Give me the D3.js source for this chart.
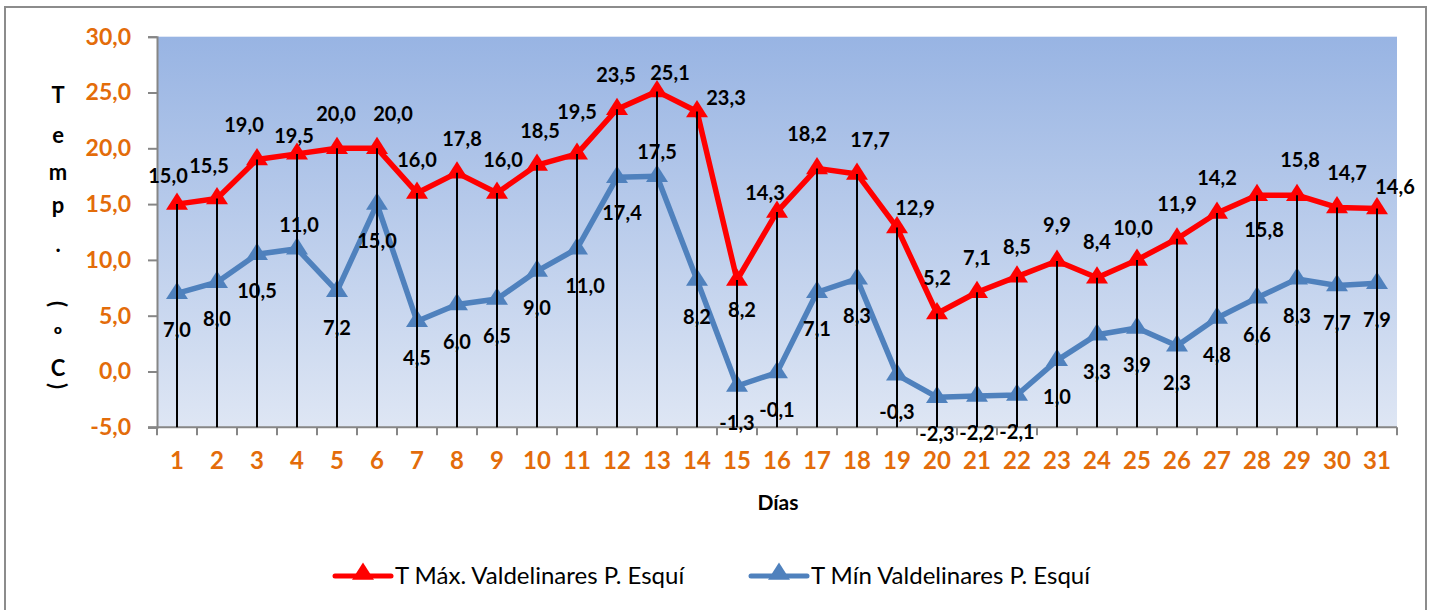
<!DOCTYPE html>
<html>
<head>
<meta charset="utf-8">
<script src="https://cdn.jsdelivr.net/npm/d3@7"></script>
<style>
  body { margin: 0; background: #fff; }
  text { font-family: Lato, "Open Sans", sans-serif; }
</style>
</head>
<body>
<svg id="chart"></svg>
<script>
// days of the month and daily temperatures (ºC)
const days = ['1','2','3','4','5','6','7','8','9','10','11','12','13','14','15','16',
  '17','18','19','20','21','22','23','24','25','26','27','28','29','30','31'];
const tMax = [15.0, 15.5, 19.0, 19.5, 20.0, 20.0, 16.0, 17.8, 16.0, 18.5, 19.5, 23.5, 25.1, 23.3, 8.2, 14.3,
  18.2, 17.7, 12.9, 5.2, 7.1, 8.5, 9.9, 8.4, 10.0, 11.9, 14.2, 15.8, 15.8, 14.7, 14.6];
const tMin = [7.0, 8.0, 10.5, 11.0, 7.2, 15.0, 4.5, 6.0, 6.5, 9.0, 11.0, 17.4, 17.5, 8.2, -1.3, -0.1,
  7.1, 8.3, -0.3, -2.3, -2.2, -2.1, 1.0, 3.3, 3.9, 2.3, 4.8, 6.6, 8.3, 7.7, 7.9];
const yTicks = [-5, 0, 5, 10, 15, 20, 25, 30];
const seriesNames = ['T Máx. Valdelinares P. Esquí', 'T Mín Valdelinares P. Esquí'];

// label nudges (dx, dy) relative to each point, as placed in the original
const maxLabelPos = [[-9,-28],[-8,-33],[-13,-34],[-3,-18],[-1,-34],[16,-34],[0,-33],[5,-34],[6,-33],[3,-34],
  [0,-42],[-1,-34],[13,-18],[29,-13],[5,30],[-12,-19],[-10,-34],[13,-34],[18,-20],[0,-35],[0,-34],[0,-30],
  [0,-36],[0,-36],[-4,-32],[0,-35],[0,-35],[7,35],[3,-35],[10,-34],[18,-22]];
const minLabelPos = days.map(() => [0, 37]);
minLabelPos[3] = [2, -24];
minLabelPos[10] = [8, 37];
minLabelPos[11] = [5, 36];
minLabelPos[12] = [0, -24];

const fmt = v => d3.format('.1f')(v).replace('.', ',').replace('−', '-');

function makeChart() {
  let w = 1433;
  let h = 610;
  let left = 157, right = 1397, top = 36.7, bottom = 427.3;

  let svg = d3.select('#chart')
    .attr('width', w)
    .attr('height', h);

  // outer frame
  svg.append('path')
    .attr('d', `M5,620 V7 H1426 V620`)
    .attr('fill', 'none')
    .style('stroke', '#8c8c8c')
    .style('stroke-width', 2);

  let grad = svg.append('defs').append('linearGradient')
    .attr('id', 'bg')
    .attr('x1', 0).attr('y1', 0).attr('x2', 0).attr('y2', 1);
  grad.append('stop').attr('offset', '0%').attr('stop-color', '#98b4e3');
  grad.append('stop').attr('offset', '100%').attr('stop-color', '#dee6f4');

  let x = d3.scaleBand().domain(days).range([left, right]);
  let y = d3.scaleLinear().domain([-5, 30]).range([bottom, top]);
  let cx = d => x(d) + x.bandwidth() / 2;

  svg.append('rect')
    .attr('x', left).attr('y', top)
    .attr('width', right - left).attr('height', bottom - top)
    .attr('fill', 'url(#bg)');

  // y axis
  let yAxis = svg.append('g')
    .attr('transform', `translate(${left},0)`)
    .call(d3.axisLeft(y).tickValues(yTicks).tickSize(9).tickPadding(17).tickFormat(fmt));
  yAxis.selectAll('text')
    .style('font-size', '23px')
    .style('font-weight', 'bold')
    .style('fill', '#e36c0a');

  // x axis
  let xAxis = svg.append('g')
    .attr('transform', `translate(0,${bottom})`)
    .call(d3.axisBottom(x).tickSize(0).tickPadding(25));
  xAxis.selectAll('text')
    .style('font-size', '24px')
    .style('font-weight', 'bold')
    .style('fill', '#e36c0a');
  xAxis.selectAll('line.sep')
    .data(days.concat(['end']))
    .enter()
    .append('line')
    .attr('class', 'sep')
    .attr('x1', (d, i) => left + i * x.step())
    .attr('x2', (d, i) => left + i * x.step())
    .attr('y1', 0).attr('y2', 8);
  svg.selectAll('.domain, .tick line, line.sep')
    .style('stroke', '#868686')
    .style('stroke-width', 2);
  xAxis.select('.domain').attr('d', `M${left - 9},0H${right}`);

  // axis titles
  svg.append('text')
    .attr('x', 778).attr('y', 503)
    .attr('text-anchor', 'middle')
    .attr('dy', '0.35em')
    .style('font-size', '21px')
    .style('font-weight', 'bold')
    .text('Días');

  let titleChars = ['T', 'e', 'm', 'p', '.', '(', 'º', 'C', ')'];
  let titleY = [95, 135, 172, 205, 244, 304, 335, 368, 386];
  svg.selectAll('text.ytitle')
    .data(titleChars)
    .enter()
    .append('text')
    .attr('class', 'ytitle')
    .attr('text-anchor', 'middle')
    .attr('dy', '0.35em')
    .attr('transform', (d, i) => (d === '(' || d === ')')
      ? `translate(58,${titleY[i]}) rotate(90)`
      : `translate(58,${titleY[i]})`)
    .style('font-size', '22px')
    .style('font-weight', 'bold')
    .text(d => d);

  let tri = d3.symbol().type(d3.symbolTriangle).size(190);
  let series = [
    { name: seriesNames[0], values: tMax, color: '#ff0000', pos: maxLabelPos },
    { name: seriesNames[1], values: tMin, color: '#4f81bd', pos: minLabelPos }
  ];

  let line = d3.line().x((d, i) => cx(days[i])).y(d => y(d));

  series.slice().reverse().forEach(s => {
    svg.append('path')
      .datum(s.values)
      .attr('d', line)
      .attr('fill', 'none')
      .style('stroke', s.color)
      .style('stroke-width', 5.5)
      .style('stroke-linejoin', 'round');
    svg.append('g').selectAll('path')
      .data(s.values)
      .enter()
      .append('path')
      .attr('d', tri)
      .attr('transform', (d, i) => `translate(${cx(days[i])},${y(d)}) scale(1.05,0.95)`)
      .attr('fill', s.color);
  });

  // drop lines from the highest series to the axis
  svg.append('g').selectAll('line')
    .data(tMax)
    .enter()
    .append('line')
    .attr('x1', (d, i) => cx(days[i]))
    .attr('x2', (d, i) => cx(days[i]))
    .attr('y1', d => y(d))
    .attr('y2', bottom)
    .style('stroke', 'black')
    .style('stroke-width', 2);

  // data labels
  series.forEach(s => {
    svg.append('g').selectAll('text')
      .data(s.values)
      .enter()
      .append('text')
      .attr('x', (d, i) => cx(days[i]) + s.pos[i][0])
      .attr('y', (d, i) => y(d) + s.pos[i][1])
      .attr('dy', '0.35em')
      .attr('text-anchor', 'middle')
      .style('font-size', '20px')
      .style('font-weight', 'bold')
      .text(fmt);
  });

  // legend
  let legendX = [335, 751];
  series.forEach((s, i) => {
    let g = svg.append('g').attr('transform', `translate(${legendX[i]},576)`);
    g.append('line')
      .attr('x1', 0).attr('x2', 56)
      .style('stroke', s.color)
      .style('stroke-width', 5)
      .style('stroke-linecap', 'round');
    g.append('path')
      .attr('d', tri)
      .attr('transform', 'translate(28,-2) scale(1.05,0.95)')
      .attr('fill', s.color);
    g.append('text')
      .attr('x', 60)
      .attr('dy', '0.35em')
      .style('font-size', '24px')
      .text(s.name);
  });
}

window.onload = function () {
  makeChart();
};
</script>
</body>
</html>
